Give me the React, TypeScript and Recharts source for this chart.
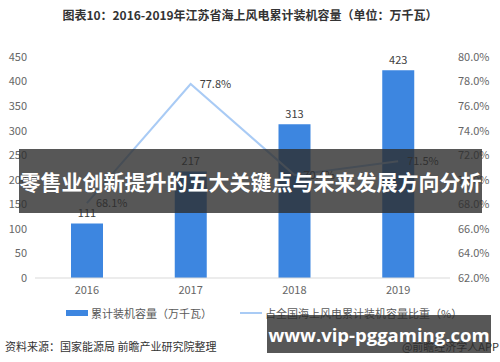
import { Bar, ComposedChart, LabelList, Line, XAxis, YAxis } from "recharts";

const years = ["2016", "2017", "2018", "2019"];
const capacity = [111, 217, 313, 423];
const sharePct = [68.1, 77.8, 70.4, 71.5];
const leftTicks = [0, 50, 100, 150, 200, 250, 300, 350, 400, 450];
const rightTicks = [62, 64, 66, 68, 70, 72, 74, 76, 78, 80];

const data = years.map((year, i) => ({ year, capacity: capacity[i], share: sharePct[i] }));

const BAR_COLOR = "#3d86e0";
const LINE_COLOR = "#a9cbf5";
const FONT = '"Noto Sans CJK SC", "Noto Sans", sans-serif';

export default function App() {
  return (
    <div
      style={{
        position: "absolute",
        left: 0,
        top: 0,
        width: 500,
        height: 362,
        background: "#fff",
        fontFamily: FONT,
        overflow: "hidden",
      }}
    >
      <div
        style={{
          position: "absolute",
          top: 6,
          left: 0,
          width: 500,
          textAlign: "center",
          fontSize: 12,
          fontWeight: 700,
          color: "#333",
        }}
      >
        图表10：2016-2019年江苏省海上风电累计装机容量（单位：万千瓦）
      </div>

      <div style={{ position: "absolute", left: 0, top: 0 }}>
        <ComposedChart
          width={500}
          height={362}
          data={data}
          margin={{ top: 57, right: 0, bottom: 62, left: 0 }}
          barCategoryGap="34%"
        >
          <XAxis
            dataKey="year"
            height={22}
            tickLine={false}
            axisLine={{ stroke: "#d9d9d9" }}
            tick={{ fontSize: 11, fill: "#666", fontFamily: FONT }}
          />
          <YAxis
            yAxisId="left"
            width={35}
            domain={[0, 450]}
            ticks={leftTicks}
            interval={0}
            axisLine={false}
            tickLine={false}
            tick={{ fontSize: 11, fill: "#666", fontFamily: FONT }}
          />
          <YAxis
            yAxisId="right"
            orientation="right"
            width={50}
            domain={[62, 80]}
            ticks={rightTicks}
            interval={0}
            axisLine={false}
            tickLine={false}
            tickFormatter={(v) => `${Number(v).toFixed(1)}%`}
            tick={{ fontSize: 11, fill: "#666", fontFamily: FONT }}
          />
          <Bar yAxisId="left" dataKey="capacity" fill={BAR_COLOR} barSize={32} isAnimationActive={false}>
            <LabelList
              dataKey="capacity"
              position="top"
              offset={6}
              style={{ fontSize: 11, fill: "#404040", fontFamily: FONT }}
            />
          </Bar>
          <Line
            yAxisId="right"
            dataKey="share"
            stroke={LINE_COLOR}
            strokeWidth={2}
            dot={false}
            isAnimationActive={false}
          >
            <LabelList
              dataKey="share"
              position="right"
              offset={9}
              formatter={(v: number) => `${v}%`}
              style={{ fontSize: 11, fill: "#404040", fontFamily: FONT }}
            />
          </Line>
        </ComposedChart>
      </div>

      {/* legend */}
      <div
        style={{
          position: "absolute",
          top: 305,
          left: 66,
          display: "flex",
          alignItems: "center",
          fontSize: 11,
          color: "#595959",
          whiteSpace: "nowrap",
        }}
      >
        <span style={{ display: "inline-block", width: 22, height: 6, background: BAR_COLOR, marginRight: 3 }} />
        <span>累计装机容量（万千瓦）</span>
        <span
          style={{ display: "inline-block", width: 22, height: 2, background: LINE_COLOR, marginLeft: 28, marginRight: 3 }}
        />
        <span>占全国海上风电累计装机容量比重（%）</span>
      </div>

      <div style={{ position: "absolute", top: 338, left: 5, fontSize: 11, color: "#333" }}>
        资料来源：国家能源局 前瞻产业研究院整理
      </div>
      <div style={{ position: "absolute", top: 338, right: 1, fontSize: 11, color: "#333" }}>
        @前瞻经济学人APP
      </div>

      {/* overlay banners */}
      <div
        style={{
          position: "absolute",
          left: 19,
          top: 149,
          width: 463,
          height: 64,
          background: "rgba(45,45,45,0.8)",
          display: "flex",
          alignItems: "center",
          justifyContent: "center",
          color: "#fff",
          fontSize: 21,
          fontWeight: 700,
          whiteSpace: "nowrap",
        }}
      >
        零售业创新提升的五大关键点与未来发展方向分析
      </div>
      <div
        style={{
          position: "absolute",
          left: 267,
          top: 315,
          width: 224,
          height: 38,
          background: "rgba(45,45,45,0.8)",
          display: "flex",
          alignItems: "center",
          justifyContent: "center",
          color: "#fff",
          fontSize: 18.5,
          fontWeight: 700,
          fontFamily: '"Open Sans", "DejaVu Sans", sans-serif',
          whiteSpace: "nowrap",
        }}
      >
        www.vip-pggaming.com
      </div>
    </div>
  );
}
